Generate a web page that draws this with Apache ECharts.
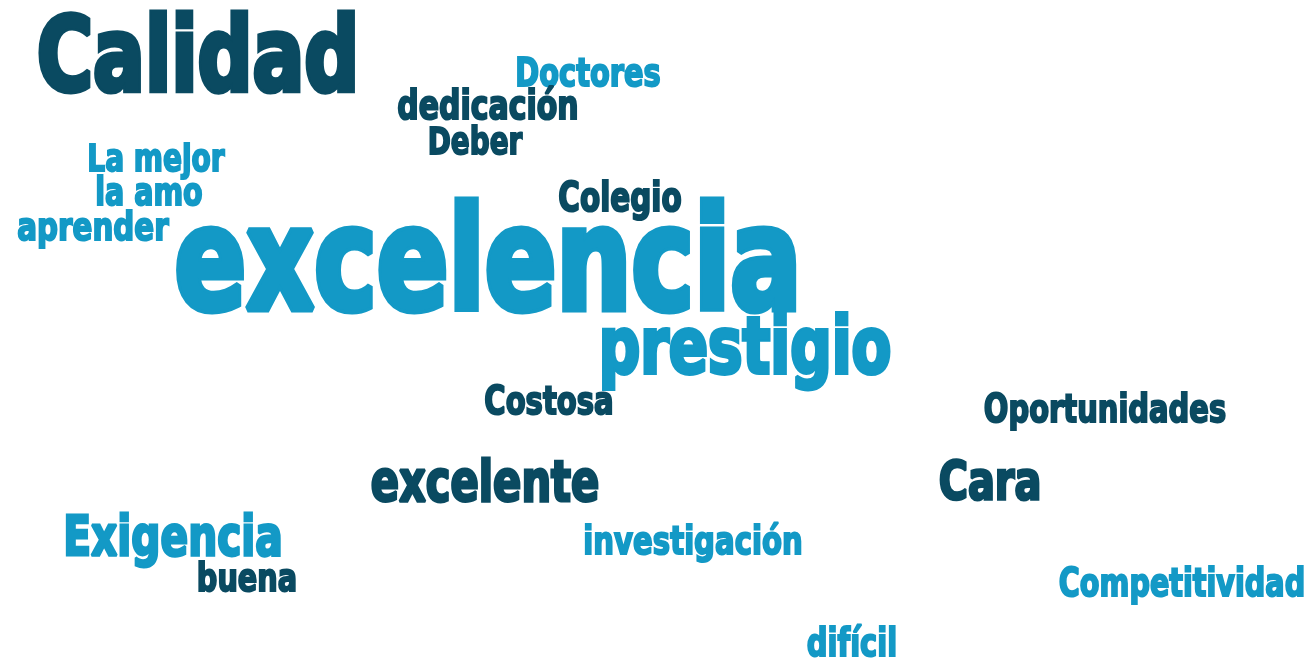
<!DOCTYPE html>
<html>
<head>
<meta charset="utf-8">
<script src="https://cdn.jsdelivr.net/npm/echarts@6/dist/echarts.min.js"></script>
<style>
  html, body { margin: 0; padding: 0; background: #fff; }
  #chart { width: 1311px; height: 662px; }
</style>
</head>
<body>
<div id="chart"></div>
<script>
// Word cloud — words, tone group, layout position and rendered width
var words = ['Calidad', 'Doctores', 'dedicación', 'Deber', 'La mejor', 'la amo', 'aprender',
  'Colegio', 'excelencia', 'prestigio', 'Costosa', 'Oportunidades', 'excelente', 'Cara',
  'Exigencia', 'buena', 'investigación', 'Competitividad', 'difícil'];
var tones = [0, 1, 0, 0, 1, 1, 1, 0, 1, 1, 0, 0, 0, 0, 1, 0, 1, 1, 1];
var posX = [198, 588, 488, 475, 156, 149, 93, 620, 488, 745, 549, 1105, 485, 990, 173, 247, 693, 1182, 852];
var posY = [52, 72, 104, 140, 157, 191, 225, 196, 256, 344, 399, 407, 480, 479, 535, 577, 539, 582, 641];
var spans = [327, 147, 183, 96, 139, 109, 153, 125, 633, 296, 131, 244, 231, 105, 222, 102, 221, 248, 92];

var TONE_COLORS = ['#0a4a61', '#1399c6'];
var FONT = "'DejaVu Sans Condensed', 'Liberation Sans', sans-serif";
var STRETCH = 1.22;   // taller, narrower glyphs (poster-style condensed face)
var WEIGHT = 0.05;    // extra outline, as a fraction of font size

// fit each word's font size so its rendered width (outline included) matches
var ctx = document.createElement('canvas').getContext('2d');
ctx.font = 'bold 100px ' + FONT;
function fitSize(word, span) {
  var perPx = ctx.measureText(word).width / 100;
  return STRETCH * span / (perPx + WEIGHT);
}

var seriesData = words.map(function(w, i) { return [posX[i], posY[i], i]; });

var chart = echarts.init(document.getElementById('chart'));
chart.setOption({
  animation: false,
  grid: { left: 0, right: 0, top: 0, bottom: 0 },
  xAxis: { type: 'value', min: 0, max: 1311, show: false },
  yAxis: { type: 'value', min: 0, max: 662, inverse: true, show: false },
  series: [{
    type: 'custom',
    silent: true,
    coordinateSystem: 'cartesian2d',
    encode: { x: 0, y: 1 },
    renderItem: function(params, api) {
      var i = api.value(2);
      var pt = api.coord([api.value(0), api.value(1)]);
      var fs = fitSize(words[i], spans[i]);
      var col = TONE_COLORS[tones[i]];
      return {
        type: 'text',
        x: pt[0],
        y: pt[1] + fs * 0.11,
        scaleX: 1 / STRETCH,
        style: {
          text: words[i],
          fill: col,
          stroke: col,
          lineWidth: fs * WEIGHT,
          lineJoin: 'round',
          fontSize: fs,
          fontFamily: FONT,
          fontWeight: 'bold',
          align: 'center',
          verticalAlign: 'middle'
        }
      };
    },
    data: seriesData
  }]
});
</script>
</body>
</html>
